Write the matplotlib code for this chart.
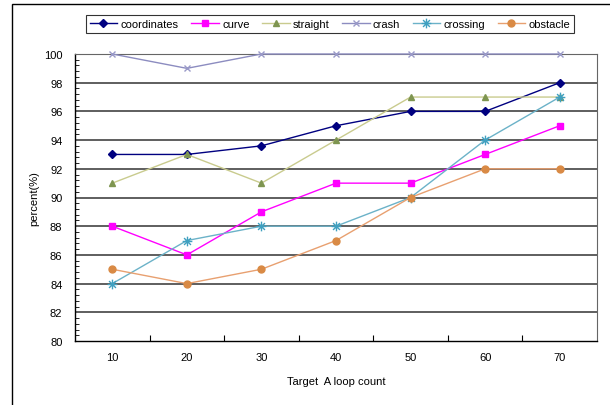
import matplotlib.pyplot as plt
import matplotlib.patches as mpatches
from matplotlib.path import Path
from matplotlib.ticker import MultipleLocator
import numpy as np

plt.rcParams['font.family'] = ['Liberation Sans', 'DejaVu Sans']

# loop counts and recognition rate per scenario
loop_count = [10, 20, 30, 40, 50, 60, 70]
coordinates = [93, 93, 93.6, 95, 96, 96, 98]
curve = [88, 86, 89, 91, 91, 93, 95]
straight = [91, 93, 91, 94, 97, 97, 97]
crash = [100, 99, 100, 100, 100, 100, 100]
crossing = [84, 87, 88, 88, 90, 94, 97]
obstacle = [85, 84, 85, 87, 90, 92, 92]

# thin asterisk marker: plus and cross spokes
d = 0.7071
star_path = Path([(-1, 0), (1, 0), (0, -1), (0, 1),
                  (-d, -d), (d, d), (-d, d), (d, -d)],
                 [Path.MOVETO, Path.LINETO] * 4)

fig = plt.figure(figsize=(6.10, 4.06), dpi=100)
# outer frame of the chart area
fig.patches.append(mpatches.Rectangle((12/610, -0.1), 1.1, (406 - 5)/406 + 0.1,
                                      transform=fig.transFigure, fill=False,
                                      edgecolor='black', linewidth=1.0))

ax = fig.add_axes([75/610, 1 - 342/406, (597 - 75)/610, (342 - 55)/406])

pos = np.arange(len(loop_count))

ax.plot(pos, coordinates, color='#000080', lw=1, marker='D', ms=4, label='coordinates')
ax.plot(pos, curve, color='#FF00FF', lw=1, marker='s', ms=5, label='curve')
ax.plot(pos, straight, color='#C9CB8E', lw=1, marker='^', ms=5,
        mfc='#7E9550', mec='#7E9550', label='straight')
ax.plot(pos, crash, color='#8C8CC0', lw=1, marker='x', ms=5,
        mec='#9A9AC8', label='crash', clip_on=False, zorder=5)
ax.plot(pos, crossing, color='#6BB2C8', lw=1, marker=star_path, ms=7,
        mfc='none', mec='#3FA0C0', mew=1, label='crossing')
ax.plot(pos, obstacle, color='#E8A070', lw=1, marker='o', ms=5,
        mfc='#D98A45', mec='#D98A45', label='obstacle')

ax.set_xlim(-0.5, 6.5)
ax.set_ylim(80, 100)
ax.set_xticks(pos)
ax.set_xticklabels([str(v) for v in loop_count])
ax.set_xticks(pos[:-1] + 0.5, minor=True)
ax.tick_params(axis='x', which='major', length=0, pad=8, labelsize=8)
ax.tick_params(axis='x', which='minor', direction='in', length=4, width=0.8)

ax.yaxis.set_major_locator(MultipleLocator(2))
ax.yaxis.set_minor_locator(MultipleLocator(0.4))
ax.tick_params(axis='y', which='major', length=0, pad=9, labelsize=8)
ax.tick_params(axis='y', which='minor', direction='in', length=3, width=0.6)

for y in range(82, 100, 2):
    ax.axhline(y, color='#333333', lw=1.1, zorder=0)

for s in ['top', 'right']:
    ax.spines[s].set_color('#666666')
    ax.spines[s].set_linewidth(0.8)
for s in ['left', 'bottom']:
    ax.spines[s].set_color('black')
    ax.spines[s].set_linewidth(1.0)

ax.set_xlabel('Target  A loop count', fontsize=8, labelpad=10)
ax.set_ylabel('percent(%)', fontsize=8)
ax.yaxis.set_label_coords(-36/522, 0.5)

leg = fig.legend(loc='center', bbox_to_anchor=(330/610, 1 - 25/406), ncol=6,
                 fontsize=8, frameon=True, fancybox=False, edgecolor='black',
                 handlelength=2.5, handletextpad=0.3, columnspacing=1.1,
                 borderpad=0.35)
leg.get_frame().set_linewidth(0.8)

fig.savefig('out.png', dpi=100)
